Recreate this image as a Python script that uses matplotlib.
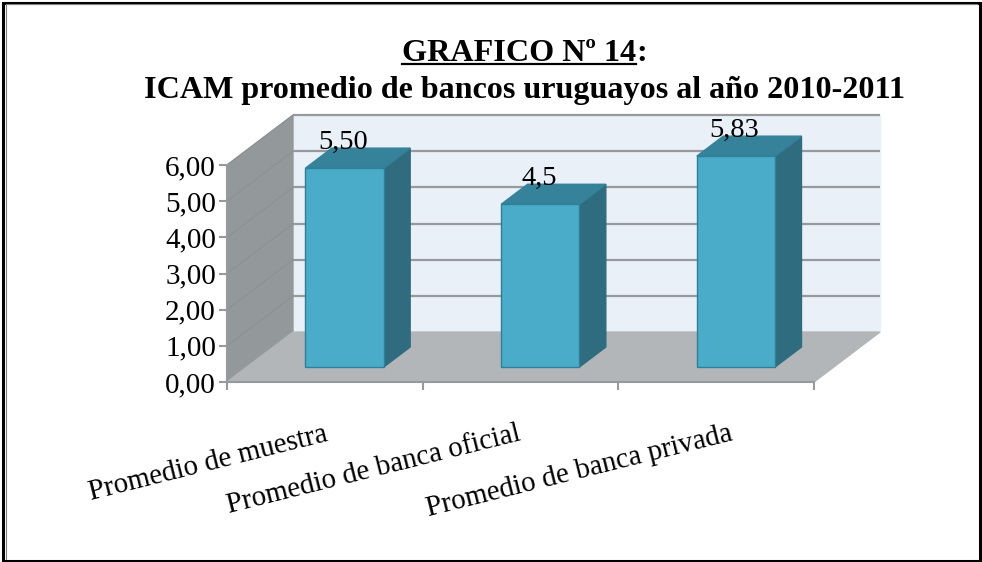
import matplotlib
matplotlib.use('Agg')
import matplotlib.pyplot as plt
from matplotlib.lines import Line2D
from matplotlib.patches import Polygon, Rectangle

categories = ['Promedio de muestra', 'Promedio de banca oficial', 'Promedio de banca privada']
values = [5.50, 4.5, 5.83]
value_labels = ['5,50', '4,5', '5,83']
y_ticks = [0, 1, 2, 3, 4, 5, 6]
y_tick_labels = ['0,00', '1,00', '2,00', '3,00', '4,00', '5,00', '6,00']

W, H = 982, 562
SERIF = 'Liberation Serif'
GRID = '#979a9c'

# oblique offset of the back wall, in data units per unit of depth
DX = 66 / 195.7
DY = 50 / 36.2
BAR_W = 0.4
BAR_START = 0.3
BAR_DEPTH = 0.4
LABEL_SHIFT = [-1, -3, 13]


def proj(x, y, d):
    return (x + d * DX, y + d * DY)


def face(ax, pts, color, edge=None, z=1):
    ax.add_patch(Polygon(pts, closed=True, facecolor=color, edgecolor=edge or color,
                         linewidth=1, zorder=z, clip_on=False))


def px(x, y):
    return x / W, 1 - y / H


fig = plt.figure(figsize=(W / 100, H / 100), dpi=100)
ax = fig.add_axes([227 / W, 1 - 382 / H, 587 / W, 217 / H])
ax.set_xlim(0, 3)
ax.set_ylim(0, 6)
ax.patch.set_visible(False)

# frame of the picture
fig.add_artist(Rectangle((3 / W, 1 / H), 977 / W, 558.5 / H, fill=False, edgecolor='black',
                         linewidth=2.2, transform=fig.transFigure))
fig.add_artist(Line2D([5.5 / W, 5.5 / W], [1 - 4 / H, 3 / H], color='#808080', linewidth=0.8))
fig.add_artist(Line2D([5.5 / W, 977 / W], [1 - 4 / H, 1 - 4 / H], color='#808080', linewidth=0.8))

# walls and floor
face(ax, [proj(0, 0, 1), proj(3, 0, 1), proj(3, 6, 1), proj(0, 6, 1)], '#e9f0f7', z=1)
face(ax, [proj(0, 0, 0), proj(0, 0, 1), proj(0, 6, 1), proj(0, 6, 0)], '#93989a', z=1)
face(ax, [proj(0, 0, 0), proj(3, 0, 0), proj(3, 0, 1), proj(0, 0, 1)], '#b2b6b9', z=3)

for t in y_ticks:
    x0, y0 = proj(0, t, 0)
    x1, y1 = proj(0, t, 1)
    x2, y2 = proj(3, t, 1)
    if t > 0:
        ax.plot([x1, x2], [y1, y2], color=GRID, linewidth=1.6, zorder=2, clip_on=False,
                solid_capstyle='butt')
        ax.plot([x0, x1], [y0, y1], color='#8a8e90', linewidth=0.6, zorder=2, clip_on=False)

# bars
for i, v in enumerate(values):
    c = i + 0.5
    l, r = c - BAR_W / 2, c + BAR_W / 2
    d0, d1 = BAR_START, BAR_START + BAR_DEPTH
    face(ax, [proj(r, 0, d0), proj(r, 0, d1), proj(r, v, d1), proj(r, v, d0)], '#2f6c80', z=5)
    face(ax, [proj(l, v, d0), proj(r, v, d0), proj(r, v, d1), proj(l, v, d1)], '#35829a', z=5)
    face(ax, [proj(l, 0, d0), proj(r, 0, d0), proj(r, v, d0), proj(l, v, d0)], '#4aacc9', '#2f8096', z=6)
    lx, ly = proj(c, v, d0)
    ax.annotate(value_labels[i], (lx, ly), xytext=(-1.5, 26), textcoords='offset pixels', ha='center',
                va='center', family=SERIF, fontsize=20.5, color='black', zorder=7,
                annotation_clip=False)

# axes
for s in ['top', 'right']:
    ax.spines[s].set_visible(False)
for s in ['left', 'bottom']:
    ax.spines[s].set_color(GRID)
    ax.spines[s].set_linewidth(1.5)
    ax.spines[s].set_zorder(4)
ax.set_yticks(y_ticks)
ax.set_yticklabels(y_tick_labels, family=SERIF, fontsize=21)
ax.set_xticks([0, 1, 2, 3])
ax.set_xticklabels([])
ax.tick_params(axis='both', color=GRID, width=1.5, length=6, direction='out')
ax.tick_params(axis='y', pad=2)

for i, name in enumerate(categories):
    ax.annotate(name, (i + 0.5, 0), xytext=(LABEL_SHIFT[i], -39), textcoords='offset pixels', ha='right',
                va='top', rotation=14, rotation_mode='anchor', family=SERIF, fontsize=20.8,
                annotation_clip=False)

# title, only the first part of the first line is underlined
t1 = fig.text(*px(402, 61), 'GRAFICO Nº 14', family=SERIF, fontsize=23.1, fontweight='bold',
              ha='left', va='baseline')
fig.canvas.draw()
box = t1.get_window_extent()
fig.text(box.x1 / W, 1 - 61 / H, ':', family=SERIF, fontsize=23.1, fontweight='bold',
         ha='left', va='baseline')
fig.add_artist(Line2D([box.x0 / W, box.x1 / W], [1 - 64 / H, 1 - 64 / H], color='black', linewidth=1.6))
fig.text(*px(524, 98), 'ICAM promedio de bancos uruguayos al año 2010-2011', family=SERIF,
         fontsize=23.1, fontweight='bold', ha='center', va='baseline')

fig.savefig('out.png', dpi=100, facecolor='white')
